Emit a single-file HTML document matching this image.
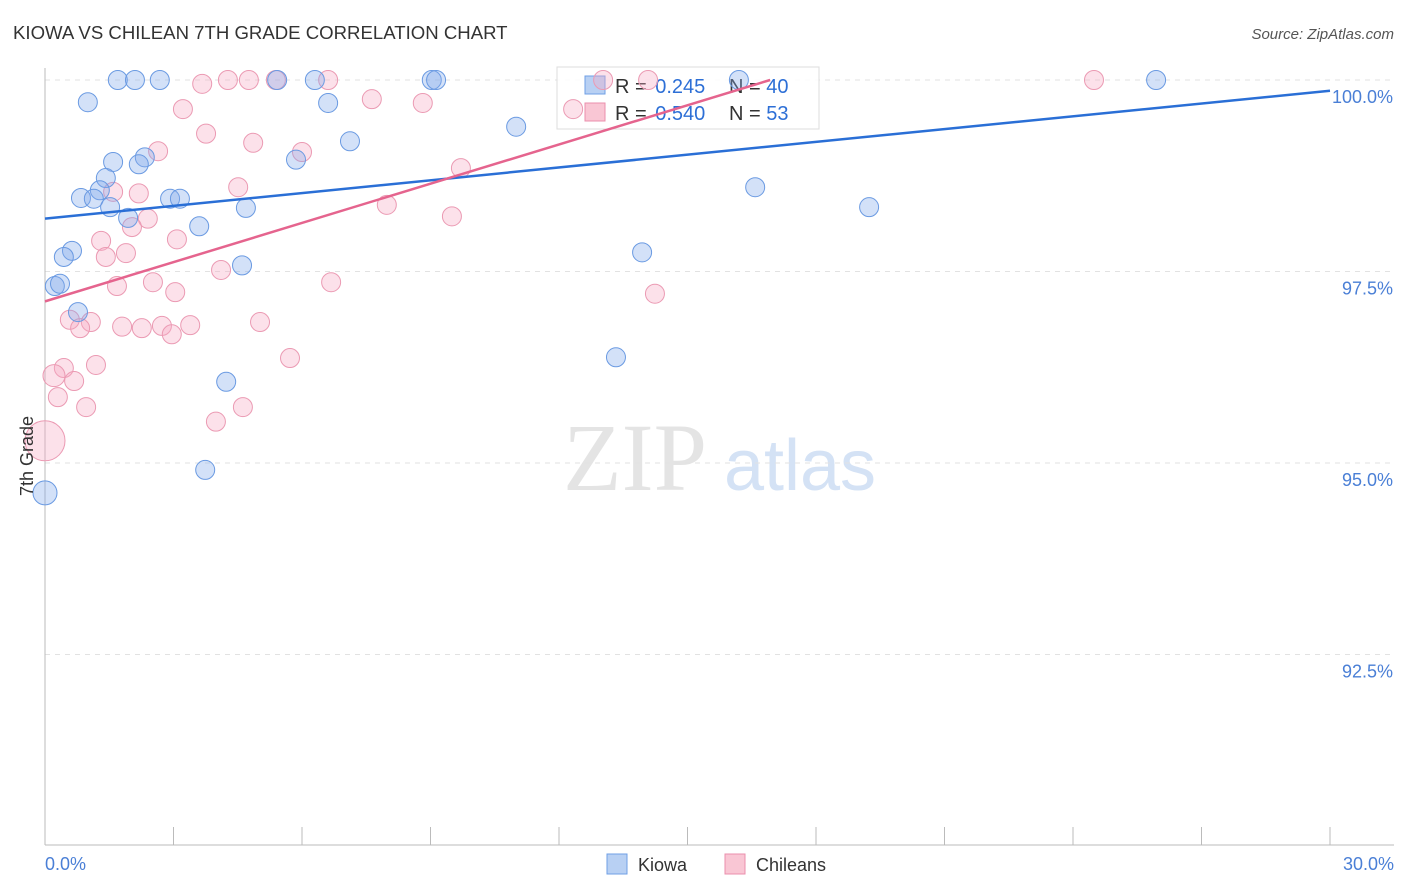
<!DOCTYPE html>
<html><head><meta charset="utf-8"><style>
body{margin:0;background:#fff;font-family:"Liberation Sans",sans-serif;}
svg{display:block}
</style></head><body>
<svg id="c" width="1406" height="892" xmlns="http://www.w3.org/2000/svg">
<text x="13" y="39" font-size="18.6" fill="#333">KIOWA VS CHILEAN 7TH GRADE CORRELATION CHART</text>
<text x="1394" y="39" font-size="15" fill="#555" font-style="italic" text-anchor="end">Source: ZipAtlas.com</text>
<g>
<text x="635" y="490" font-size="96" font-family="Liberation Serif,serif" fill="#e4e4e4" text-anchor="middle">ZIP</text>
<text x="800" y="490" font-size="72" fill="#d4e2f5" text-anchor="middle">atlas</text>
</g>
<g id="grid"></g>
<g id="axes"></g>
<g>
<rect x="557" y="67" width="262" height="62" fill="#fff" fill-opacity="0.85" stroke="#ddd"/>
<rect x="585" y="76" width="20" height="18" fill="#b8d0f3" stroke="#6f9fe6"/>
<text x="615" y="93" font-size="20" fill="#333">R = <tspan fill="#2d6fd6" dx="3">0.245</tspan></text>
<text x="729" y="93" font-size="20" fill="#333">N = <tspan fill="#2d6fd6">40</tspan></text>
<rect x="585" y="103" width="20" height="18" fill="#f9c6d4" stroke="#eb8fac"/>
<text x="615" y="120" font-size="20" fill="#333">R = <tspan fill="#2d6fd6" dx="3">0.540</tspan></text>
<text x="729" y="120" font-size="20" fill="#333">N = <tspan fill="#2d6fd6">53</tspan></text>
</g>
<g id="pts"></g>
<g id="lines"></g>
<g>
<rect x="607" y="854" width="20" height="20" fill="#b8d0f3" stroke="#6f9fe6"/>
<text x="638" y="871" font-size="18" fill="#333">Kiowa</text>
<rect x="725" y="854" width="20" height="20" fill="#f9c6d4" stroke="#eb8fac"/>
<text x="756" y="871" font-size="18" fill="#333">Chileans</text>
</g>
<text transform="translate(33,456) rotate(-90)" font-size="18" fill="#333" text-anchor="middle">7th Grade</text>
</svg>
<script>
const yTicks=[100,97.5,95,92.5];
const yTickLabels=["100.0%","97.5%","95.0%","92.5%"];
const xTickLabels=["0.0%","30.0%"];
const kiowaX=[1.70,2.10,2.68,5.42,6.30,9.03,9.13,16.20,25.94,1.00,6.61,7.12,11.00,1.59,2.33,2.19,5.86,1.42,1.28,0.84,1.14,1.52,2.92,3.15,1.94,3.60,4.69,16.58,19.24,0.63,0.44,4.60,13.94,0.23,0.35,0.77,13.33,4.23,3.74,0];
const kiowaY=[100,100,100,100,100,100,100,100,100,99.71,99.70,99.20,99.39,98.93,98.99,98.90,98.96,98.72,98.56,98.46,98.45,98.34,98.45,98.45,98.20,98.09,98.33,98.60,98.34,97.77,97.69,97.58,97.75,97.31,97.34,96.97,96.38,96.06,94.91,94.61];
const chileX=[3.67,4.27,4.76,5.39,6.61,24.49,14.08,13.03,12.33,3.22,3.76,7.63,8.82,4.86,2.64,6.00,9.71,1.59,2.19,4.51,7.98,9.50,2.40,2.03,1.31,3.08,1.42,1.89,4.11,1.68,2.52,3.04,6.68,14.24,0.58,1.07,0.82,1.80,2.26,2.73,2.96,3.39,5.02,5.72,1.19,0.44,0.21,0.68,0.30,0.96,3.99,4.62,0];
const chileY=[99.95,100,100,100,100,100,100,100,99.62,99.62,99.30,99.75,99.70,99.18,99.07,99.06,98.85,98.54,98.52,98.60,98.37,98.22,98.19,98.08,97.90,97.92,97.69,97.74,97.52,97.31,97.36,97.23,97.36,97.21,96.87,96.84,96.76,96.78,96.76,96.79,96.68,96.80,96.84,96.37,96.28,96.24,96.14,96.07,95.86,95.73,95.54,95.73,95.29];
const kiowaTrend=[98.19,99.86];
const chileTrend=[97.11,100];
const chileTrendEndX=16.93;
const NS="http://www.w3.org/2000/svg";
const X=v=>45+v/30*1285;
const Y=v=>80+(100-v)/2.5*191.5;
function mk(tag,attrs,parent){const e=document.createElementNS(NS,tag);for(const k in attrs)e.setAttribute(k,attrs[k]);document.getElementById(parent).appendChild(e);return e;}
yTicks.forEach((t,i)=>{
 const l=mk('line',{x1:45,x2:1394,y1:Y(t),y2:Y(t),stroke:'#e2e2e2','stroke-dasharray':'5,5'},'grid');
 
 
 const tx=mk('text',{x:1393,y:Y(t)+23,'font-size':18,fill:'#4a7fd6','text-anchor':'end'},'grid');
 tx.textContent=yTickLabels[i];
 
 
});
let a=mk('line',{x1:45,x2:45,y1:68,y2:845,stroke:'#bbb'},'axes');


a=mk('line',{x1:45,x2:1394,y1:845,y2:845,stroke:'#bbb'},'axes');


for(let i=0;i<=10;i++){
 const t=mk('line',{x1:X(i*3),x2:X(i*3),y1:827,y2:845,stroke:'#bbb'},'axes');
 
 
}
[[0,'start',45],[30,'end',1394]].forEach((d,i)=>{
 const t=mk('text',{x:d[2],y:870,'font-size':18,fill:'#4a7fd6','text-anchor':d[1]},'axes');
 t.textContent=xTickLabels[i];
 
 
});
function dots(xs,ys,fill,stroke,name){
 xs.forEach((x,i)=>{
  let r=9.5;
  if(x===0)r=name==='kiowa-point'?12:20;
  if(x===0.21)r=11;
  const c=mk('circle',{cx:X(x),cy:Y(ys[i]),r:r,fill:fill,stroke:stroke,'stroke-width':1},'pts');
  
  
 });
}
dots(chileX,chileY,'rgba(246,170,194,0.35)','#eb9ab3','chileans-point');
dots(kiowaX,kiowaY,'rgba(130,170,235,0.35)','#6a9ae2','kiowa-point');
let L=mk('line',{x1:X(0),y1:Y(kiowaTrend[0]),x2:X(30),y2:Y(kiowaTrend[1]),stroke:'#2a6fd6','stroke-width':2.5},'lines');


L=mk('line',{x1:X(0),y1:Y(chileTrend[0]),x2:X(chileTrendEndX),y2:Y(chileTrend[1]),stroke:'#e5648e','stroke-width':2.5},'lines');


</script>
</body></html>
